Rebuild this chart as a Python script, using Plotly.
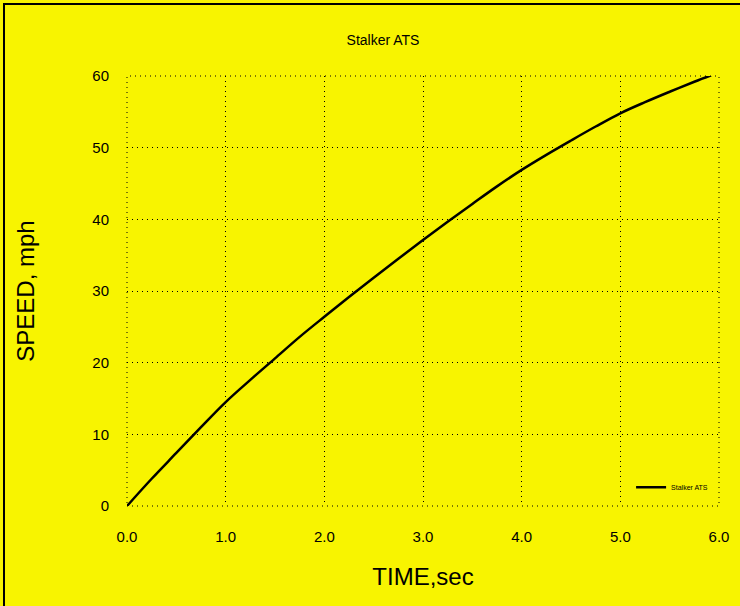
import plotly.graph_objects as go

time_s = [0, 0.25, 0.5, 0.75, 1.0, 1.25, 1.5, 1.75, 2.0, 2.25, 2.5, 2.75, 3.0,
          3.25, 3.5, 3.75, 4.0, 4.25, 4.5, 4.75, 5.0, 5.25, 5.5, 5.75, 5.92]
speed_mph = [0, 3.8, 7.4, 11.0, 14.5, 17.6, 20.6, 23.6, 26.4, 29.15, 31.85, 34.5, 37.1,
             39.65, 42.15, 44.6, 46.9, 49.0, 51.0, 52.95, 54.8, 56.35, 57.8, 59.2, 60.1]
x_ticks = [0, 1, 2, 3, 4, 5, 6]
y_ticks = [0, 10, 20, 30, 40, 50, 60]

bg = "#f8f400"
fnt = "Liberation Sans, Arial, sans-serif"
dots = "1px,4px"

fig = go.Figure()
fig.add_trace(go.Scatter(x=time_s, y=speed_mph, mode="lines", name="Stalker ATS",
                         line=dict(color="black", width=2.5, shape="spline")))

fig.update_layout(
    width=740, height=606,
    paper_bgcolor=bg, plot_bgcolor=bg,
    margin=dict(l=127, r=21, t=76, b=100),
    title=dict(text="Stalker ATS", x=(383 - 127) / 592, xref="paper", xanchor="center",
               y=1 - 40 / 606, yanchor="middle",
               font=dict(family=fnt, size=14, color="black")),
    showlegend=True,
    legend=dict(x=0.99, y=0.01, xanchor="right", yanchor="bottom",
                bgcolor="rgba(0,0,0,0)", font=dict(family=fnt, size=7, color="black"),
                itemwidth=30),
    font=dict(family=fnt, color="black"),
)
fig.update_xaxes(range=[0, 6], tickvals=x_ticks, tickformat=".1f",
                 showgrid=True, gridcolor="black", griddash=dots, gridwidth=1,
                 zeroline=False, showline=False, ticks="", ticklabelstandoff=20,
                 tickfont=dict(size=15, family=fnt, color="black"),
                 title=dict(text="TIME,sec", font=dict(size=24, family=fnt, color="black"),
                            standoff=24))
fig.update_yaxes(range=[0, 60], tickvals=y_ticks,
                 showgrid=True, gridcolor="black", griddash=dots, gridwidth=1,
                 zeroline=False, showline=False, ticks="", ticklabelstandoff=17,
                 tickfont=dict(size=15, family=fnt, color="black"),
                 title=dict(text="SPEED, mph", font=dict(size=24, family=fnt, color="black"),
                            standoff=50))

# dotted frame of the plotting area (edge gridlines)
fig.add_shape(type="rect", xref="paper", yref="paper", x0=0, x1=1, y0=0, y1=1,
              line=dict(color="black", width=1, dash=dots), fillcolor="rgba(0,0,0,0)",
              layer="below")
# outer black frame of the picture
fig.add_shape(type="rect", xref="paper", yref="paper",
              x0=(4 - 127) / 592, x1=(760 - 127) / 592,
              y0=(506 - 640) / 430, y1=(506 - 4) / 430,
              line=dict(color="black", width=2), fillcolor="rgba(0,0,0,0)", layer="below")

fig.write_html("out.html", config={"displayModeBar": False},
               post_script="document.body.style.margin='0';")
